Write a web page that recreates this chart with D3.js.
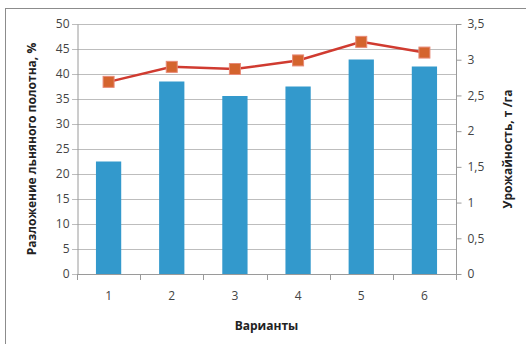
<!DOCTYPE html>
<html><head><meta charset="utf-8">
<script src="https://cdn.jsdelivr.net/npm/d3@7"></script>
<style>body{margin:0;background:#fff}svg{display:block}text{font-family:"Open Sans","Liberation Sans",Arial,sans-serif}</style>
</head><body><svg id="c" width="526" height="344"></svg>
<script>
const categories = ["1","2","3","4","5","6"];
const decomposition = [22.5, 38.5, 35.6, 37.5, 42.9, 41.5];
const yieldVals = [2.69, 2.90, 2.87, 2.99, 3.25, 3.10];
const leftTicks = [0,5,10,15,20,25,30,35,40,45,50];
const rightTicks = [0,0.5,1,1.5,2,2.5,3,3.5];

const svg = d3.select("#c");
const L = 77, R = 456, T = 24, B = 274;
svg.append("rect").attr("x",5.5).attr("y",8.5).attr("width",540).attr("height",350)
  .attr("fill","#fff").attr("stroke","#8c8c8c");

const x = d3.scaleBand().domain(categories).range([L,R]).paddingInner(0.6).paddingOuter(0.3);
const xc = d3.scaleBand().domain(categories).range([L,R]);
const yL = d3.scaleLinear().domain([0,50]).range([B,T]);
const yR = d3.scaleLinear().domain([0,3.5]).range([B,T]);

// gridlines
svg.append("g").selectAll("line").data(leftTicks).join("line")
  .attr("x1",L-5).attr("x2",R).attr("y1",d=>Math.round(yL(d))+0.5).attr("y2",d=>Math.round(yL(d))+0.5)
  .attr("stroke","#bdbdbd");

// bars
svg.append("g").selectAll("rect").data(decomposition).join("rect")
  .attr("x",(d,i)=>x(categories[i])).attr("width",x.bandwidth())
  .attr("y",d=>yL(d)).attr("height",d=>B-yL(d)).attr("fill","#3399cc");

// left axis
const gl = svg.append("g").attr("transform",`translate(${L+0.5},0)`)
  .call(d3.axisLeft(yL).tickValues(leftTicks).tickSize(0).tickPadding(8));
gl.select(".domain").attr("stroke","#9a9a9a");
gl.selectAll("text").attr("font-size",12).attr("fill","#444");

// right axis
const gr = svg.append("g").attr("transform",`translate(${R+0.5},0)`)
  .call(d3.axisRight(yR).tickValues(rightTicks).tickSize(5).tickPadding(6).tickFormat(d=>String(d).replace(".",",")));
gr.select(".domain").attr("stroke","#9a9a9a").attr("d",`M0,${T}V${B}`);
gr.selectAll(".tick line").attr("stroke","#9a9a9a");
gr.selectAll("text").attr("font-size",12).attr("fill","#444");

// bottom axis
const gb = svg.append("g").attr("transform",`translate(0,${B+0.5})`)
  .call(d3.axisBottom(xc).tickSize(0).tickPadding(17));
gb.select(".domain").attr("stroke","#9a9a9a").attr("d",`M${L},0H${R}`);
gb.selectAll("text").attr("font-size",12).attr("fill","#444");
const bounds = categories.map(c=>xc(c)).concat([R]);
svg.append("g").selectAll("line").data(bounds).join("line")
  .attr("x1",d=>Math.round(d)+0.5).attr("x2",d=>Math.round(d)+0.5).attr("y1",B).attr("y2",B+6)
  .attr("stroke","#9a9a9a");

// line
const line = d3.line().x((d,i)=>xc(categories[i])+xc.bandwidth()/2).y(d=>yR(d));
svg.append("path").datum(yieldVals).attr("d",line).attr("fill","none")
  .attr("stroke","#d03b30").attr("stroke-width",2.5);
svg.append("g").selectAll("rect").data(yieldVals).join("rect")
  .attr("x",(d,i)=>xc(categories[i])+xc.bandwidth()/2-5.5).attr("y",d=>yR(d)-5.5)
  .attr("width",11).attr("height",11).attr("fill","#d4642e").attr("stroke","#e88a77").attr("stroke-width",1);

// titles
svg.append("text").attr("x",(L+R)/2).attr("y",330).attr("text-anchor","middle")
  .attr("font-size",12).attr("font-weight","bold").attr("fill","#222").text("Варианты");
svg.append("text").attr("transform",`translate(36,${(T+B)/2}) rotate(-90)`).attr("text-anchor","middle")
  .attr("font-size",12).attr("font-weight","bold").attr("fill","#222").text("Разложение льняного полотна, %");
svg.append("text").attr("transform",`translate(512,${(T+B)/2}) rotate(-90)`).attr("text-anchor","middle")
  .attr("font-size",12).attr("font-weight","bold").attr("fill","#222").text("Урожайность, т /га");
</script></body></html>
